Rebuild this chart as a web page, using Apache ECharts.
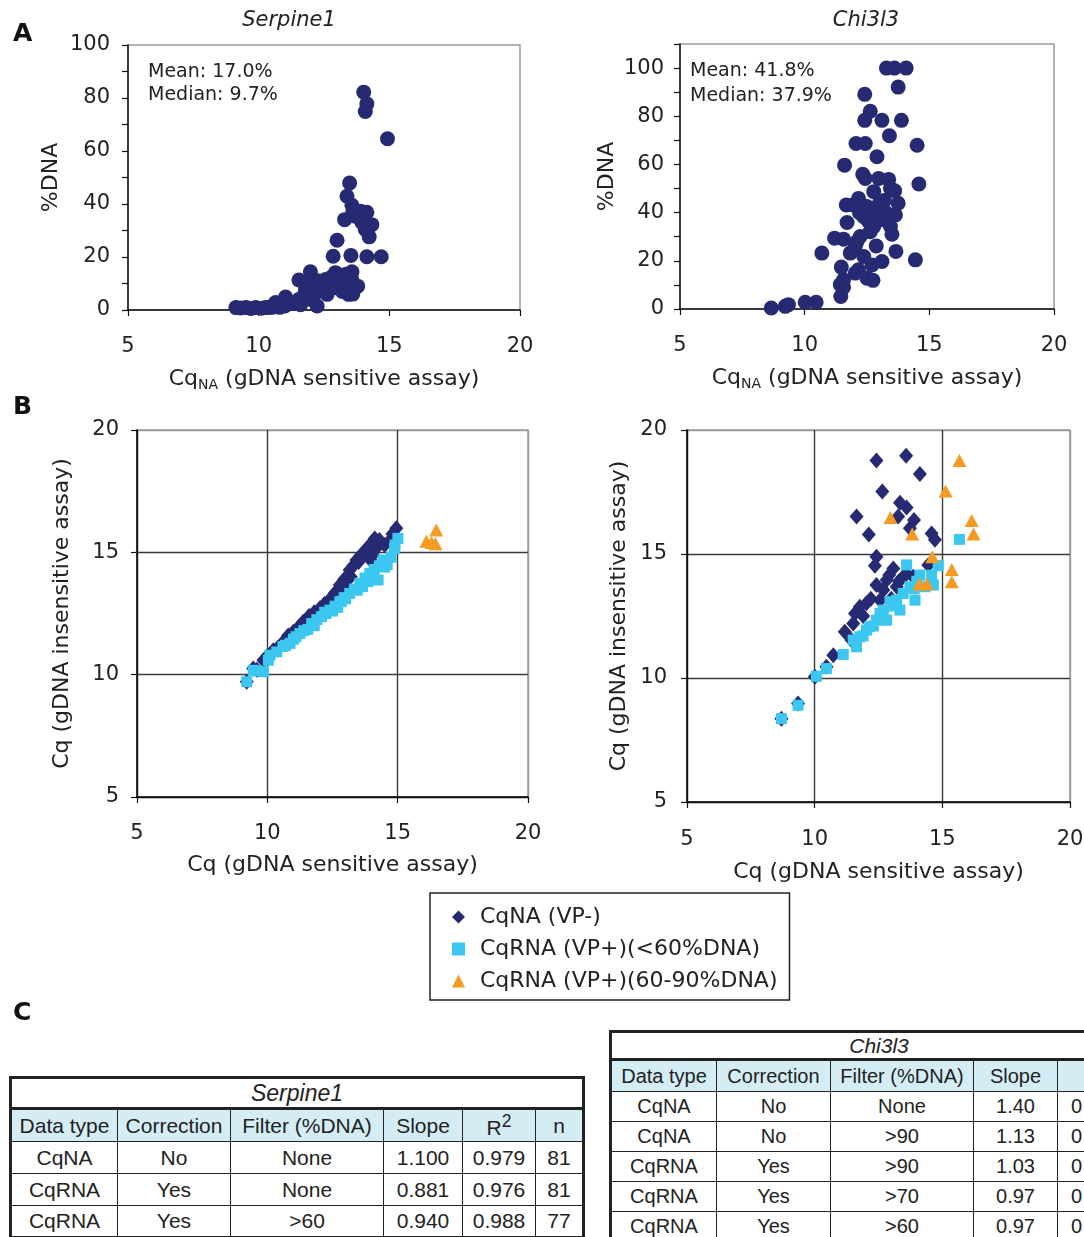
<!DOCTYPE html>
<html>
<head>
<meta charset="utf-8">
<script src="https://cdn.jsdelivr.net/npm/echarts@6/dist/echarts.min.js"></script>
<style>
html,body{margin:0;padding:0;background:#fff;width:1084px;height:1237px;overflow:hidden;}
#chart{position:absolute;left:0;top:0;width:1084px;height:1237px;}
.tbl{position:absolute;border-collapse:collapse;table-layout:fixed;border:3px solid #222;font-family:"Liberation Sans",Arial,sans-serif;color:#222;background:#fff;}
.tbl td{border:1.5px solid #222;text-align:center;padding:0;white-space:nowrap;overflow:hidden;}
.tbl tr.title td{border-bottom:3px solid #222;font-style:italic;}
.tbl tr.head td{background:#d4edf5;}
</style>
</head>
<body>
<div id="chart"></div>
<script>
// ---------- Data ----------
// Panel A: Serpine1  [CqNA, %DNA]
const serpineA = [
  [14.02,82.2],[14.14,77.8],[14.08,74.9],[14.93,64.6],
  [13.48,47.9],[13.38,42.9],[13.57,39.5],[13.70,35.4],[13.89,37.3],[14.14,36.9],[13.29,34.1],
  [14.33,32.2],[14.08,30.4],[14.23,27.6],[13.00,26.3],[12.85,20.3],[13.53,20.6],[14.14,20.1],
  [14.69,20.1],[13.60,37.0],[13.95,33.0],
  [11.98,14.4],[11.54,11.3],[12.24,1.5],[12.94,14.1],[13.57,14.4],[13.19,12.2],[12.56,11.5],
  [13.32,11.5],[13.79,9.0],[13.44,5.9],[12.62,5.9],[12.94,8.4],[12.30,10.9],[11.79,7.8],
  [11.54,4.0],[11.03,4.9],[10.65,2.8],[10.27,0.9],[9.89,0.9],[9.51,0.9],[9.13,0.9],
  [12.0,9.0],[12.3,7.0],[12.7,10.0],[13.0,9.0],[13.2,7.0],[13.4,9.5],[13.6,6.0],[13.1,13.0],
  [12.5,8.0],[11.7,5.0],[11.3,2.5],[11.0,1.5],[10.8,1.0],[10.5,1.0],[11.6,2.0],[12.0,4.0],
  [12.8,12.5],[13.35,13.5],[13.55,12.0],[12.2,11.0],[11.8,9.5],[9.3,0.8],[9.7,0.6],[10.1,0.7],[10.4,1.0]
];
// Panel A: Chi3l3  [CqNA, %DNA]
const chi3l3A = [
  [13.28,100],[13.60,100],[14.07,100],[13.75,92.1],[12.41,89.1],[12.63,82.1],[12.41,78.3],[13.10,78.3],
  [13.88,78.3],[13.40,71.9],[12.06,68.7],[12.43,68.7],[14.51,68.0],[12.90,63.2],[11.60,59.7],
  [12.33,55.9],[12.43,54.2],[12.97,54.2],[13.37,53.8],[12.77,48.7],[13.44,50.1],[13.61,49.1],[14.58,51.9],
  [13.75,43.9],[12.16,45.9],[11.67,43.2],[11.94,43.2],[12.50,42.5],[12.63,40.8],[12.97,41.1],[13.30,39.7],
  [13.64,39.0],[13.17,37.0],[13.44,34.2],[13.50,31.0],[12.37,38.3],[11.70,35.9],[12.77,34.2],[12.63,32.1],
  [12.23,30.1],[12.10,28.0],[12.03,25.9],[11.20,29.4],[11.56,29.0],[12.87,26.2],[11.83,23.2],[10.69,23.2],
  [13.66,23.9],[14.44,20.4],[12.37,21.8],[12.70,18.3],[13.10,19.7],[11.47,17.4],[12.16,16.3],[12.03,14.9],
  [12.50,12.8],[12.74,11.9],[11.56,12.1],[11.43,10.1],[11.56,9.1],[11.45,5.2],[10.46,2.8],[10.02,2.8],
  [9.35,1.8],[9.22,1.1],[8.66,0.4],[12.9,40.0],[12.8,36.0],[13.0,44.0],[12.2,40.0],[12.55,36.5],[13.2,45.0]
];
// Panel B: Serpine1  [Cq sensitive, Cq insensitive]
const serpineB_NA = [
  [9.21,9.71],[9.46,10.25],[9.6,10.2],[9.85,10.59],[10.0,10.75],[10.23,11.0],[10.4,11.1],[10.61,11.34],
  [10.8,11.6],[11.0,11.75],[11.2,11.95],[11.38,12.16],[11.6,12.4],[11.8,12.55],[12.02,12.71],[12.2,12.9],
  [12.40,13.05],[12.6,13.35],[12.78,13.66],[12.95,13.9],[13.16,14.28],[13.3,14.45],[13.42,14.69],[13.6,14.9],
  [13.87,15.23],[14.0,15.35],[14.12,15.57],[14.3,15.5],[14.75,15.55],[14.95,15.98],[14.8,15.75],[13.7,15.0],
  [12.5,13.2],[11.5,12.2],[10.9,11.5],[13.5,14.6],[13.8,14.95],[13.2,14.0],[12.9,13.55],[12.65,13.2],
  [12.3,12.85],[11.9,12.45],[14.2,15.2],[14.05,14.9],[13.95,14.7],[14.5,15.3],[13.05,13.85]
];
const serpineB_RNAlow = [
  [9.21,9.71],[9.46,10.18],[9.6,10.15],[9.85,10.12],[10.04,10.59],[10.1,10.8],[10.36,10.93],[10.6,11.15],
  [10.87,11.28],[11.0,11.45],[11.25,11.68],[11.4,11.8],[11.70,12.09],[11.9,12.25],[12.08,12.37],[12.25,12.5],
  [12.40,12.64],[12.6,12.8],[12.78,12.98],[12.95,13.15],[13.16,13.32],[13.35,13.5],[13.55,13.73],[13.75,13.95],
  [13.93,14.14],[14.1,14.3],[14.25,13.87],[14.44,14.69],[14.6,14.5],[14.88,15.16],[15.01,15.57],[14.3,14.45],
  [13.0,13.1],[12.2,12.55],[11.1,11.55],[10.7,11.2],[13.45,13.45],[13.65,13.6],[13.85,13.8],[14.0,14.0],
  [14.5,14.4],[14.75,14.8],[14.9,15.3],[12.7,12.75],[12.5,12.6],[12.85,13.0],[11.55,11.85],[11.8,12.0]
];
const serpineB_RNAhigh = [[16.1,15.45],[16.48,15.91],[16.45,15.35],[16.3,15.4]];
// Panel B: Chi3l3
const chi3l3B_NA = [
  [12.42,18.77],[13.58,18.96],[14.12,18.23],[12.65,17.52],[13.34,17.07],[13.60,16.88],[13.27,16.51],[11.64,16.51],
  [13.89,16.37],[13.73,16.04],[12.12,15.79],[14.58,15.83],[14.71,15.57],[12.42,14.89],[12.36,14.53],[13.08,14.42],
  [12.92,14.15],[13.47,14.08],[12.42,13.75],[12.69,13.55],[13.21,13.68],[14.45,14.56],[11.77,12.87],[12.03,13.01],
  [11.58,12.60],[11.51,12.20],[11.18,11.86],[11.44,11.53],[10.73,10.92],[10.46,10.45],[10.01,10.05],[9.35,8.97],
  [8.70,8.36],[12.56,13.14],[12.82,13.95],[13.86,14.08],[12.2,13.2],[11.9,12.5],[13.0,13.2],[13.3,13.9],[13.6,14.2]
];
const chi3l3B_RNAlow = [
  [15.67,15.59],[13.60,14.56],[14.84,14.53],[14.12,14.15],[14.58,14.15],[14.65,13.75],[14.32,13.68],[13.93,13.14],
  [13.73,13.68],[13.47,13.41],[13.21,13.14],[13.34,12.74],[12.95,13.08],[12.69,12.74],[12.82,12.33],[12.42,12.33],
  [12.16,12.07],[12.56,12.60],[12.03,11.93],[11.77,11.66],[11.64,11.26],[11.51,11.53],[11.12,10.95],[10.46,10.38],
  [10.07,10.07],[9.35,8.90],[8.70,8.36],[13.9,13.6],[14.0,13.9],[13.1,12.9],[12.3,12.1],[11.9,11.7]
];
const chi3l3B_RNAhigh = [
  [15.67,18.77],[15.13,17.54],[12.97,16.47],[16.15,16.35],[16.22,15.81],[13.82,15.81],[14.61,14.89],
  [15.37,14.38],[15.37,13.88],[14.10,13.79],[14.39,13.79]
];
const seriesNames = ['CqNA (VP-)','CqRNA (VP+)(<60%DNA)','CqRNA (VP+)(60-90%DNA)'];
const geneTitles = ['Serpine1','Chi3l3'];
const statsText = [['Mean: 17.0%','Median: 9.7%'],['Mean: 41.8%','Median: 37.9%']];
// Tables (panel C)
const serpTableHead = ['Data type','Correction','Filter (%DNA)','Slope','R<sup>2</sup>','n'];
const serpTableRows = [
  ['CqNA','No','None','1.100','0.979','81'],
  ['CqRNA','Yes','None','0.881','0.976','81'],
  ['CqRNA','Yes','&gt;60','0.940','0.988','77']
];
const chiTableHead = ['Data type','Correction','Filter (%DNA)','Slope',''];
const chiTableRows = [
  ['CqNA','No','None','1.40','0'],
  ['CqNA','No','&gt;90','1.13','0'],
  ['CqRNA','Yes','&gt;90','1.03','0'],
  ['CqRNA','Yes','&gt;70','0.97','0'],
  ['CqRNA','Yes','&gt;60','0.97','0']
];

// ---------- Styling ----------
const FONT = 'DejaVu Sans';
const TXT = '#222';
const NAVY = '#262a73', SKY = '#3cc7f1', ORANGE = '#f59a22';

function gridDef(l,t,w,h){
  return {left:l, top:t, width:w, height:h, show:true, borderColor:'#9a9a9a', borderWidth:1.5,
          containLabel:false, outerBoundsMode:'none'};
}
function axisBase(gi, min, max, interval, extra){
  return Object.assign({
    type:'value', gridIndex:gi, min:min, max:max, interval:interval,
    axisLine:{show:true, onZero:false, lineStyle:{color:'#111', width:1.5}},
    axisTick:{show:true, inside:false, length:6, lineStyle:{color:'#111', width:1.2}},
    axisLabel:{fontSize:21, fontFamily:FONT, color:TXT, showMinLabel:true, showMaxLabel:true, hideOverlap:false},
    splitLine:{show:false},
    nameLocation:'middle',
    nameTextStyle:{fontSize:22, fontFamily:FONT, color:TXT}
  }, extra);
}
const subName = '{a|Cq}{s|NA}{a| (gDNA sensitive assay)}';
const subRich = {a:{fontSize:22, fontFamily:FONT, color:TXT}, s:{fontSize:14, fontFamily:FONT, color:TXT, padding:[12,0,0,0]}};
const bSplit = {show:true, lineStyle:{color:['#111','#3a3a3a','#3a3a3a','#9a9a9a'], width:1.4}};

const option = {
  backgroundColor:'#fff',
  animation:false,
  grid:[ gridDef(128,45,392,265), gridDef(680,44,374,265), gridDef(137,430,391,367), gridDef(687,430,383,372) ],
  xAxis:[
    axisBase(0,5,20,5,{name:subName, nameGap:56, nameTextStyle:{rich:subRich}, axisLabel:{fontSize:21,fontFamily:FONT,color:TXT,margin:26}}),
    axisBase(1,5,20,5,{name:subName, nameGap:56, nameTextStyle:{rich:subRich}, axisLabel:{fontSize:21,fontFamily:FONT,color:TXT,margin:26}}),
    axisBase(2,5,20,5,{name:'Cq (gDNA sensitive assay)', nameGap:57, splitLine:bSplit, axisLabel:{fontSize:21,fontFamily:FONT,color:TXT,margin:26}}),
    axisBase(3,5,20,5,{name:'Cq (gDNA sensitive assay)', nameGap:59, splitLine:bSplit, axisLabel:{fontSize:21,fontFamily:FONT,color:TXT,margin:27}})
  ],
  yAxis:[
    axisBase(0,0,100,10,{name:'%DNA', nameGap:66, axisLabel:{fontSize:21,fontFamily:FONT,color:TXT,margin:18,formatter:v=>v%20===0?String(v):''}}),
    axisBase(1,0,110,10,{name:'%DNA', nameGap:62, axisLabel:{fontSize:21,fontFamily:FONT,color:TXT,margin:16,formatter:v=>(v%20===0&&v<=100)?String(v):''}}),
    axisBase(2,5,20,5,{name:'Cq (gDNA insensitive assay)', nameGap:64, splitLine:bSplit, axisLabel:{fontSize:21,fontFamily:FONT,color:TXT,margin:18}}),
    axisBase(3,5,20,5,{name:'Cq (gDNA insensitive assay)', nameGap:57, splitLine:bSplit, axisLabel:{fontSize:21,fontFamily:FONT,color:TXT,margin:20}})
  ],
  legend:{
    left:430, top:893, orient:'vertical', selectedMode:false,
    data:seriesNames,
    itemWidth:13, itemHeight:13, itemGap:10,
    padding:[13,12,8,22],
    borderColor:'#222', borderWidth:1.5,
    textStyle:{fontSize:22, fontFamily:FONT, color:TXT, padding:[0,0,0,10], lineHeight:22}
  },
  graphic:[
    {type:'text', left:13, top:22, style:{text:'A', font:'bold 25px "DejaVu Sans"', fill:'#111'}},
    {type:'text', left:13, top:395, style:{text:'B', font:'bold 25px "DejaVu Sans"', fill:'#111'}},
    {type:'text', left:13, top:1001, style:{text:'C', font:'bold 25px "DejaVu Sans"', fill:'#111'}},
    {type:'text', x:289, y:21, style:{text:geneTitles[0], font:'italic 21px "DejaVu Sans"', fill:TXT, align:'center', verticalAlign:'middle'}},
    {type:'text', x:866, y:21, style:{text:geneTitles[1], font:'italic 21px "DejaVu Sans"', fill:TXT, align:'center', verticalAlign:'middle'}},
    {type:'text', x:148, y:72, style:{text:statsText[0][0], font:'19px "DejaVu Sans"', fill:TXT, verticalAlign:'middle'}},
    {type:'text', x:148, y:95, style:{text:statsText[0][1], font:'19px "DejaVu Sans"', fill:TXT, verticalAlign:'middle'}},
    {type:'text', x:690, y:71, style:{text:statsText[1][0], font:'19px "DejaVu Sans"', fill:TXT, verticalAlign:'middle'}},
    {type:'text', x:690, y:96, style:{text:statsText[1][1], font:'19px "DejaVu Sans"', fill:TXT, verticalAlign:'middle'}}
  ],
  series:[
    {type:'scatter', name:'Serpine1 %DNA', xAxisIndex:0, yAxisIndex:0, data:serpineA, symbol:'circle', symbolSize:15, itemStyle:{color:NAVY, opacity:1}},
    {type:'scatter', name:'Chi3l3 %DNA', xAxisIndex:1, yAxisIndex:1, data:chi3l3A, symbol:'circle', symbolSize:15, itemStyle:{color:NAVY, opacity:1}},
    {type:'scatter', name:seriesNames[0], xAxisIndex:2, yAxisIndex:2, data:serpineB_NA, symbol:'diamond', symbolSize:[14,16], itemStyle:{color:NAVY, opacity:1}},
    {type:'scatter', name:seriesNames[1], xAxisIndex:2, yAxisIndex:2, data:serpineB_RNAlow, symbol:'rect', symbolSize:11, itemStyle:{color:SKY, opacity:1}},
    {type:'scatter', name:seriesNames[2], xAxisIndex:2, yAxisIndex:2, data:serpineB_RNAhigh, symbol:'triangle', symbolSize:[14,13], itemStyle:{color:ORANGE, opacity:1}},
    {type:'scatter', name:seriesNames[0], xAxisIndex:3, yAxisIndex:3, data:chi3l3B_NA, symbol:'diamond', symbolSize:[14,16], itemStyle:{color:NAVY, opacity:1}},
    {type:'scatter', name:seriesNames[1], xAxisIndex:3, yAxisIndex:3, data:chi3l3B_RNAlow, symbol:'rect', symbolSize:11, itemStyle:{color:SKY, opacity:1}},
    {type:'scatter', name:seriesNames[2], xAxisIndex:3, yAxisIndex:3, data:chi3l3B_RNAhigh, symbol:'triangle', symbolSize:[14,13], itemStyle:{color:ORANGE, opacity:1}}
  ]
};
const chart = echarts.init(document.getElementById('chart'), null, {renderer:'canvas'});
chart.setOption(option);

// ---------- Tables (panel C) ----------
function buildTable(title, head, rows, colW, left, top, titleH, headH, rowH, fontSize, titleSize, lastAlignLeft){
  const t = document.createElement('table');
  t.className = 'tbl';
  t.style.left = left + 'px';
  t.style.top = top + 'px';
  t.style.fontSize = fontSize + 'px';
  t.style.width = colW.reduce((a,b)=>a+b,0) + 'px';
  let html = '<colgroup>' + colW.map(w=>'<col style="width:'+w+'px">').join('') + '</colgroup>';
  html += '<tr class="title" style="height:'+titleH+'px"><td colspan="'+colW.length+'" style="font-size:'+titleSize+'px">'+title+'</td></tr>';
  html += '<tr class="head" style="height:'+headH+'px">' + head.map(h=>'<td>'+h+'</td>').join('') + '</tr>';
  rows.forEach(r=>{
    html += '<tr style="height:'+rowH+'px">' + r.map((c,i)=>{
      const st = (lastAlignLeft && i===r.length-1) ? ' style="text-align:left;padding-left:13px"' : '';
      return '<td'+st+'>'+c+'</td>';
    }).join('') + '</tr>';
  });
  t.innerHTML = html;
  document.body.appendChild(t);
}
buildTable(geneTitles[0], serpTableHead, serpTableRows, [107,113,153,79,73,48], 9, 1076, 31, 33, 32, 21, 23, false);
buildTable(geneTitles[1], chiTableHead, chiTableRows, [106,114,143,84,90], 609, 1030, 28, 32, 30, 20, 21, true);
</script>
</body>
</html>
